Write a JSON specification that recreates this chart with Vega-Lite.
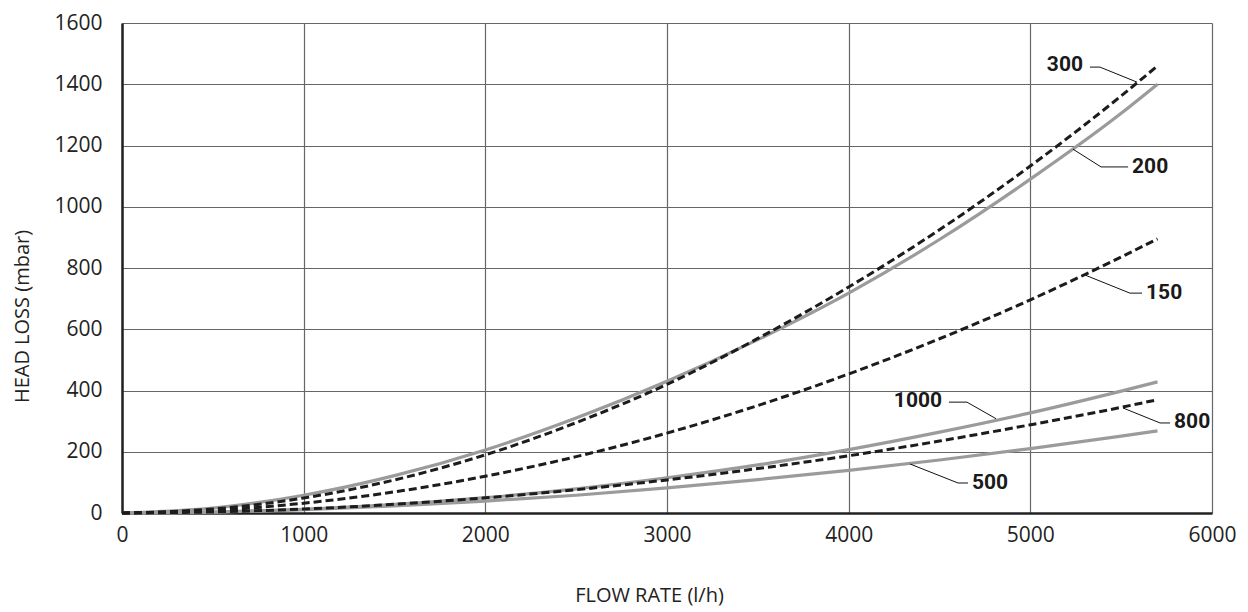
{
  "$schema": "https://vega.github.io/schema/vega-lite/v6.json",
  "width": 1090,
  "height": 490,
  "autosize": {"type": "none"},
  "padding": {"left": 122, "top": 23, "right": 36, "bottom": 99},
  "background": "white",
  "config": {"view": {"stroke": null}, "font": "Open Sans"},
  "datasets": {
    "curves": [
      {"series": "200", "kind": "solid", "flow": 0, "loss": 0},
      {"series": "200", "kind": "solid", "flow": 500, "loss": 16},
      {"series": "200", "kind": "solid", "flow": 1000, "loss": 58},
      {"series": "200", "kind": "solid", "flow": 1500, "loss": 122},
      {"series": "200", "kind": "solid", "flow": 2000, "loss": 206},
      {"series": "200", "kind": "solid", "flow": 2500, "loss": 310},
      {"series": "200", "kind": "solid", "flow": 3000, "loss": 430},
      {"series": "200", "kind": "solid", "flow": 3500, "loss": 566},
      {"series": "200", "kind": "solid", "flow": 4000, "loss": 718},
      {"series": "200", "kind": "solid", "flow": 4500, "loss": 893},
      {"series": "200", "kind": "solid", "flow": 5000, "loss": 1090},
      {"series": "200", "kind": "solid", "flow": 5500, "loss": 1305},
      {"series": "200", "kind": "solid", "flow": 5700, "loss": 1400},
      {"series": "1000", "kind": "solid", "flow": 0, "loss": 0},
      {"series": "1000", "kind": "solid", "flow": 500, "loss": 3},
      {"series": "1000", "kind": "solid", "flow": 1000, "loss": 12},
      {"series": "1000", "kind": "solid", "flow": 1500, "loss": 28},
      {"series": "1000", "kind": "solid", "flow": 2000, "loss": 50},
      {"series": "1000", "kind": "solid", "flow": 2500, "loss": 79},
      {"series": "1000", "kind": "solid", "flow": 3000, "loss": 115},
      {"series": "1000", "kind": "solid", "flow": 3500, "loss": 157},
      {"series": "1000", "kind": "solid", "flow": 4000, "loss": 207},
      {"series": "1000", "kind": "solid", "flow": 4500, "loss": 264},
      {"series": "1000", "kind": "solid", "flow": 5000, "loss": 327},
      {"series": "1000", "kind": "solid", "flow": 5500, "loss": 398},
      {"series": "1000", "kind": "solid", "flow": 5700, "loss": 428},
      {"series": "500", "kind": "solid", "flow": 0, "loss": 0},
      {"series": "500", "kind": "solid", "flow": 500, "loss": 3},
      {"series": "500", "kind": "solid", "flow": 1000, "loss": 11},
      {"series": "500", "kind": "solid", "flow": 1500, "loss": 23},
      {"series": "500", "kind": "solid", "flow": 2000, "loss": 39},
      {"series": "500", "kind": "solid", "flow": 2500, "loss": 58},
      {"series": "500", "kind": "solid", "flow": 3000, "loss": 82},
      {"series": "500", "kind": "solid", "flow": 3500, "loss": 109},
      {"series": "500", "kind": "solid", "flow": 4000, "loss": 139},
      {"series": "500", "kind": "solid", "flow": 4500, "loss": 173},
      {"series": "500", "kind": "solid", "flow": 5000, "loss": 210},
      {"series": "500", "kind": "solid", "flow": 5500, "loss": 251},
      {"series": "500", "kind": "solid", "flow": 5700, "loss": 268},
      {"series": "300", "kind": "dashed", "flow": 0, "loss": 0},
      {"series": "300", "kind": "dashed", "flow": 500, "loss": 13},
      {"series": "300", "kind": "dashed", "flow": 1000, "loss": 49},
      {"series": "300", "kind": "dashed", "flow": 1500, "loss": 108},
      {"series": "300", "kind": "dashed", "flow": 2000, "loss": 190},
      {"series": "300", "kind": "dashed", "flow": 2500, "loss": 295},
      {"series": "300", "kind": "dashed", "flow": 3000, "loss": 420},
      {"series": "300", "kind": "dashed", "flow": 3500, "loss": 570},
      {"series": "300", "kind": "dashed", "flow": 4000, "loss": 738},
      {"series": "300", "kind": "dashed", "flow": 4500, "loss": 925},
      {"series": "300", "kind": "dashed", "flow": 5000, "loss": 1133},
      {"series": "300", "kind": "dashed", "flow": 5500, "loss": 1362},
      {"series": "300", "kind": "dashed", "flow": 5700, "loss": 1460},
      {"series": "150", "kind": "dashed", "flow": 0, "loss": 0},
      {"series": "150", "kind": "dashed", "flow": 500, "loss": 8},
      {"series": "150", "kind": "dashed", "flow": 1000, "loss": 32},
      {"series": "150", "kind": "dashed", "flow": 1500, "loss": 69},
      {"series": "150", "kind": "dashed", "flow": 2000, "loss": 120},
      {"series": "150", "kind": "dashed", "flow": 2500, "loss": 184},
      {"series": "150", "kind": "dashed", "flow": 3000, "loss": 261},
      {"series": "150", "kind": "dashed", "flow": 3500, "loss": 351},
      {"series": "150", "kind": "dashed", "flow": 4000, "loss": 454},
      {"series": "150", "kind": "dashed", "flow": 4500, "loss": 569},
      {"series": "150", "kind": "dashed", "flow": 5000, "loss": 696},
      {"series": "150", "kind": "dashed", "flow": 5500, "loss": 836},
      {"series": "150", "kind": "dashed", "flow": 5700, "loss": 895},
      {"series": "800", "kind": "dashed", "flow": 0, "loss": 0},
      {"series": "800", "kind": "dashed", "flow": 500, "loss": 3.5},
      {"series": "800", "kind": "dashed", "flow": 1000, "loss": 13},
      {"series": "800", "kind": "dashed", "flow": 1500, "loss": 28.5},
      {"series": "800", "kind": "dashed", "flow": 2000, "loss": 49.5},
      {"series": "800", "kind": "dashed", "flow": 2500, "loss": 76},
      {"series": "800", "kind": "dashed", "flow": 3000, "loss": 108},
      {"series": "800", "kind": "dashed", "flow": 3500, "loss": 145},
      {"series": "800", "kind": "dashed", "flow": 4000, "loss": 187},
      {"series": "800", "kind": "dashed", "flow": 4500, "loss": 235},
      {"series": "800", "kind": "dashed", "flow": 5000, "loss": 288},
      {"series": "800", "kind": "dashed", "flow": 5500, "loss": 345},
      {"series": "800", "kind": "dashed", "flow": 5700, "loss": 370}
    ],
    "leaders": [
      {"id": "300", "o": 1, "x": 5328, "y": 1456},
      {"id": "300", "o": 2, "x": 5383, "y": 1456},
      {"id": "300", "o": 3, "x": 5587, "y": 1407},
      {"id": "200", "o": 1, "x": 5235, "y": 1188},
      {"id": "200", "o": 2, "x": 5389, "y": 1130},
      {"id": "200", "o": 3, "x": 5538, "y": 1130},
      {"id": "150", "o": 1, "x": 5301, "y": 777},
      {"id": "150", "o": 2, "x": 5548, "y": 718},
      {"id": "150", "o": 3, "x": 5615, "y": 718},
      {"id": "800", "o": 1, "x": 5510, "y": 343},
      {"id": "800", "o": 2, "x": 5714, "y": 294},
      {"id": "800", "o": 3, "x": 5769, "y": 294},
      {"id": "1000", "o": 1, "x": 4552, "y": 362},
      {"id": "1000", "o": 2, "x": 4651, "y": 362},
      {"id": "1000", "o": 3, "x": 4811, "y": 308},
      {"id": "500", "o": 1, "x": 4338, "y": 160},
      {"id": "500", "o": 2, "x": 4602, "y": 98},
      {"id": "500", "o": 3, "x": 4657, "y": 98}
    ],
    "labels": [
      {"text": "300", "side": "right", "x": 5290, "y": 1463},
      {"text": "1000", "side": "right", "x": 4514, "y": 366},
      {"text": "200", "side": "left", "x": 5560, "y": 1130},
      {"text": "150", "side": "left", "x": 5637, "y": 718},
      {"text": "800", "side": "left", "x": 5791, "y": 297},
      {"text": "500", "side": "left", "x": 4679, "y": 98}
    ]
  },
  "layer": [
    {
      "data": {"name": "curves"},
      "transform": [{"filter": "datum.kind === 'solid'"}],
      "mark": {"type": "line", "color": "#9b9b9b", "strokeWidth": 3.2, "interpolate": "monotone"},
      "encoding": {
        "x": {
          "field": "flow", "type": "quantitative",
          "scale": {"domain": [0, 6000], "nice": false},
          "axis": {
            "values": [0, 1000, 2000, 3000, 4000, 5000, 6000],
            "format": "d",
            "title": "FLOW RATE (l/h)",
            "titleFont": "Open Sans", "titleFontSize": 20, "titleFontWeight": "normal", "titleColor": "#222",
            "titleX": 527, "titleY": 82, "titleBaseline": "middle",
            "labelFont": "Open Sans", "labelFontSize": 21, "labelColor": "#222", "labelPadding": 11,
            "ticks": false, "domainColor": "#222", "domainWidth": 2.5,
            "grid": true, "gridColor": "#666", "gridWidth": 1.2, "labelFlush": false
          }
        },
        "y": {
          "field": "loss", "type": "quantitative",
          "scale": {"domain": [0, 1600], "nice": false},
          "axis": {
            "values": [0, 200, 400, 600, 800, 1000, 1200, 1400, 1600],
            "format": "d",
            "title": "HEAD LOSS (mbar)",
            "titleFont": "Open Sans", "titleFontSize": 20, "titleFontWeight": "normal", "titleColor": "#222",
            "titleX": -100, "titleY": 293, "titleAngle": -90, "titleAlign": "center", "titleBaseline": "middle",
            "labelFont": "Open Sans", "labelFontSize": 21, "labelColor": "#222", "labelPadding": 20,
            "ticks": false, "domainColor": "#222", "domainWidth": 2.5,
            "grid": true, "gridColor": "#666", "gridWidth": 1.2, "labelFlush": false
          }
        },
        "detail": {"field": "series"}
      }
    },
    {
      "data": {"name": "curves"},
      "transform": [{"filter": "datum.kind === 'dashed'"}],
      "mark": {"type": "line", "color": "#1c1c1c", "strokeWidth": 3, "strokeDash": [8, 4], "interpolate": "monotone"},
      "encoding": {
        "x": {"field": "flow", "type": "quantitative"},
        "y": {"field": "loss", "type": "quantitative"},
        "detail": {"field": "series"}
      }
    },
    {
      "data": {"name": "leaders"},
      "mark": {"type": "line", "color": "#111", "strokeWidth": 1},
      "encoding": {
        "x": {"field": "x", "type": "quantitative"},
        "y": {"field": "y", "type": "quantitative"},
        "detail": {"field": "id"},
        "order": {"field": "o"}
      }
    },
    {
      "data": {"name": "labels"},
      "transform": [{"filter": "datum.side === 'left'"}],
      "mark": {"type": "text", "align": "left", "baseline": "middle", "font": "Roboto", "fontWeight": "bold", "fontSize": 21, "color": "#1a1a1a"},
      "encoding": {
        "x": {"field": "x", "type": "quantitative"},
        "y": {"field": "y", "type": "quantitative"},
        "text": {"field": "text"}
      }
    },
    {
      "data": {"name": "labels"},
      "transform": [{"filter": "datum.side === 'right'"}],
      "mark": {"type": "text", "align": "right", "baseline": "middle", "font": "Roboto", "fontWeight": "bold", "fontSize": 21, "color": "#1a1a1a"},
      "encoding": {
        "x": {"field": "x", "type": "quantitative"},
        "y": {"field": "y", "type": "quantitative"},
        "text": {"field": "text"}
      }
    }
  ]
}
